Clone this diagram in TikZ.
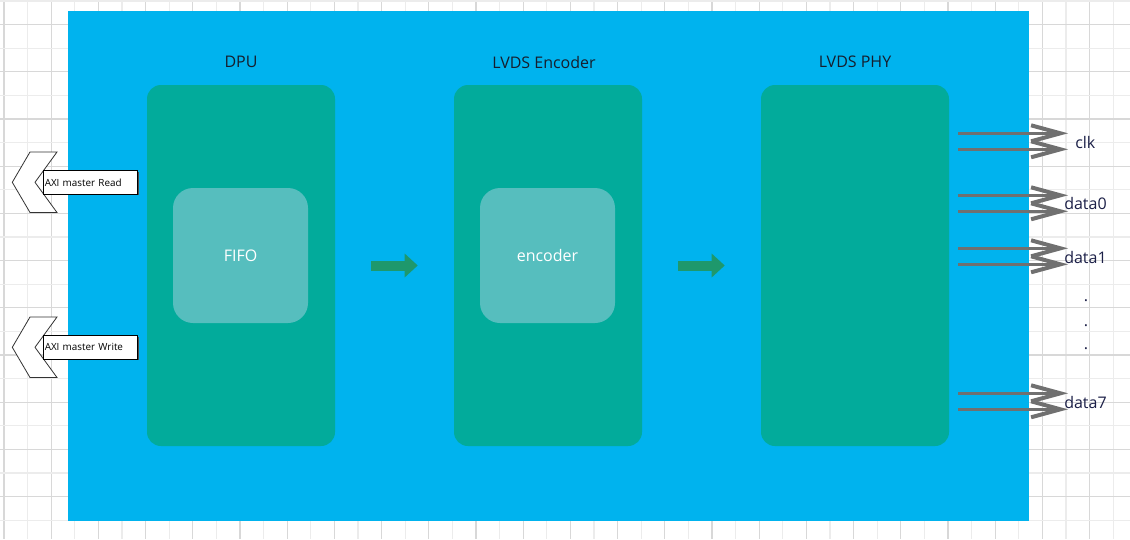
\documentclass[tikz,border=0pt]{standalone}
\usepackage{fontspec}
\setmainfont{Open Sans}
\usetikzlibrary{arrows.meta,shadows}
\definecolor{bgblue}{RGB}{0,179,238}
\definecolor{boxgreen}{RGB}{2,171,155}
\definecolor{innerbox}{RGB}{86,190,190}
\definecolor{arrgreen}{RGB}{30,152,108}
\definecolor{gridA}{RGB}{216,216,216}
\definecolor{gridB}{RGB}{236,236,236}
\definecolor{outgray}{RGB}{112,112,112}
\definecolor{headtxt}{RGB}{22,30,45}
\definecolor{navy}{RGB}{28,32,72}
\def\u{0.75pt}
\tikzset{
  gbox/.style={fill=boxgreen, draw=none, minimum width=188*\u, minimum height=361*\u, rounded corners=10.5pt, inner sep=0pt},
  ibox/.style={fill=innerbox, draw=none, minimum width=135*\u, minimum height=135*\u, rounded corners=15pt, inner sep=0pt, text=white, font=\fontsize{12}{14}\selectfont},
  headtext/.style={text=headtxt, font=\fontsize{12}{14}\selectfont, inner sep=0pt},
  outlabel/.style={text=navy, font=\fontsize{12}{14}\selectfont, inner sep=0pt, anchor=west},
  garr/.style={draw=arrgreen, line width=7.5pt, -{Triangle[length=9.75pt,width=17.25pt]}, shorten <=27pt, shorten >=27pt},
  outarr/.style={draw=outgray, line width=2.6pt, -{Straight Barb[length=22pt,width=12pt,line width=3pt]}},
  chev/.style={draw=black!80, fill=white, line width=0.6pt, line join=miter},
  axibox/.style={draw=black, fill=white, line width=0.6pt, inner xsep=0.8pt, inner ysep=0pt, minimum height=23.3*\u, text width=94*0.75pt-1.6pt, align=left, anchor=west, font=\fontsize{7.4}{9}\selectfont, drop shadow={shadow xshift=0.9pt, shadow yshift=-0.9pt, fill=black!70, opacity=1}},
  dotlabel/.style={text=navy, font=\fontsize{12}{14}\selectfont, inner sep=0pt},
  gridline/.style={line width=0.8pt}
}
\begin{document}
\begin{tikzpicture}[x=0.75pt,y=-0.75pt]
\useasboundingbox (0,0) rectangle (1130,539);
\fill[white] (0,0) rectangle (1130,539);
% grid
\foreach \k in {0,...,47}{
  \pgfmathsetmacro\xx{4+23.6*\k}
  \ifodd\k \draw[gridB, gridline] (\xx,0) -- (\xx,539); \else \draw[gridA, gridline] (\xx,0) -- (\xx,539); \fi
}
\foreach \k in {0,...,22}{
  \pgfmathsetmacro\yy{1+23.6*\k}
  \ifodd\k \draw[gridA, gridline] (0,\yy) -- (1130,\yy); \else \draw[gridB, gridline] (0,\yy) -- (1130,\yy); \fi
}
% main block
\node[fill=bgblue, draw=none, inner sep=0pt, minimum width=961*\u, minimum height=509.5*\u, anchor=north west] (main) at (68,11) {};
% sub blocks
\node[gbox] (dpu) at (241,265.5) {};
\node[gbox] (enc) at (548,265.5) {};
\node[gbox] (phy) at (855,265.5) {};
\node[headtext] (dputxt) at (241,62) {DPU};
\node[headtext] (enctxt) at (544,62) {LVDS Encoder};
\node[headtext] (phytxt) at (855,62) {LVDS PHY};
\node[ibox] (fifo) at (240.5,255.5) {\raisebox{-1.2pt}{FIFO}};
\node[ibox] (encoder) at (547.5,255.5) {\raisebox{-1.2pt}{encoder}};
% green arrows
\draw[garr] (dpu) -- (enc);
\draw[garr] (enc) -- (phy);
% AXI chevrons
\draw[chev] (30,152) -- (57,152) -- (35,182.3) -- (57,212.5) -- (30,212.5) -- (12.3,182.3) -- cycle;
\draw[chev] (30,317) -- (57,317) -- (35,347.3) -- (57,377.5) -- (30,377.5) -- (12.3,347.3) -- cycle;
\node[axibox] (axir) at (43.3,182.3) {AXI master Read};
\node[axibox] (axiw) at (43.3,347.3) {AXI master Write};
% output arrows
\foreach \n/\y in {c1/133.3, c2/149.3, d01/195.3, d02/211.3, d11/248.3, d12/264.3, d71/393.3, d72/409.3}{
  \coordinate (\n s) at (958,\y);
  \coordinate (\n e) at (1068,\y);
}
\draw[outarr] (c1s) -- (c1e);
\draw[outarr] (c2s) -- (c2e);
\draw[outarr] (d01s) -- (d01e);
\draw[outarr] (d02s) -- (d02e);
\draw[outarr] (d11s) -- (d11e);
\draw[outarr] (d12s) -- (d12e);
\draw[outarr] (d71s) -- (d71e);
\draw[outarr] (d72s) -- (d72e);
\node[outlabel] (clk) at (1075,142) {clk};
\node[outlabel] (data0) at (1064,203.5) {data0};
\node[outlabel] (data1) at (1064,257.5) {data1};
\node[outlabel] (data7) at (1064,402.5) {data7};
\node[dotlabel] (dot1) at (1086,300.5) {.};
\node[dotlabel] (dot2) at (1086,325.5) {.};
\node[dotlabel] (dot3) at (1086,349) {.};
\end{tikzpicture}
\end{document}
